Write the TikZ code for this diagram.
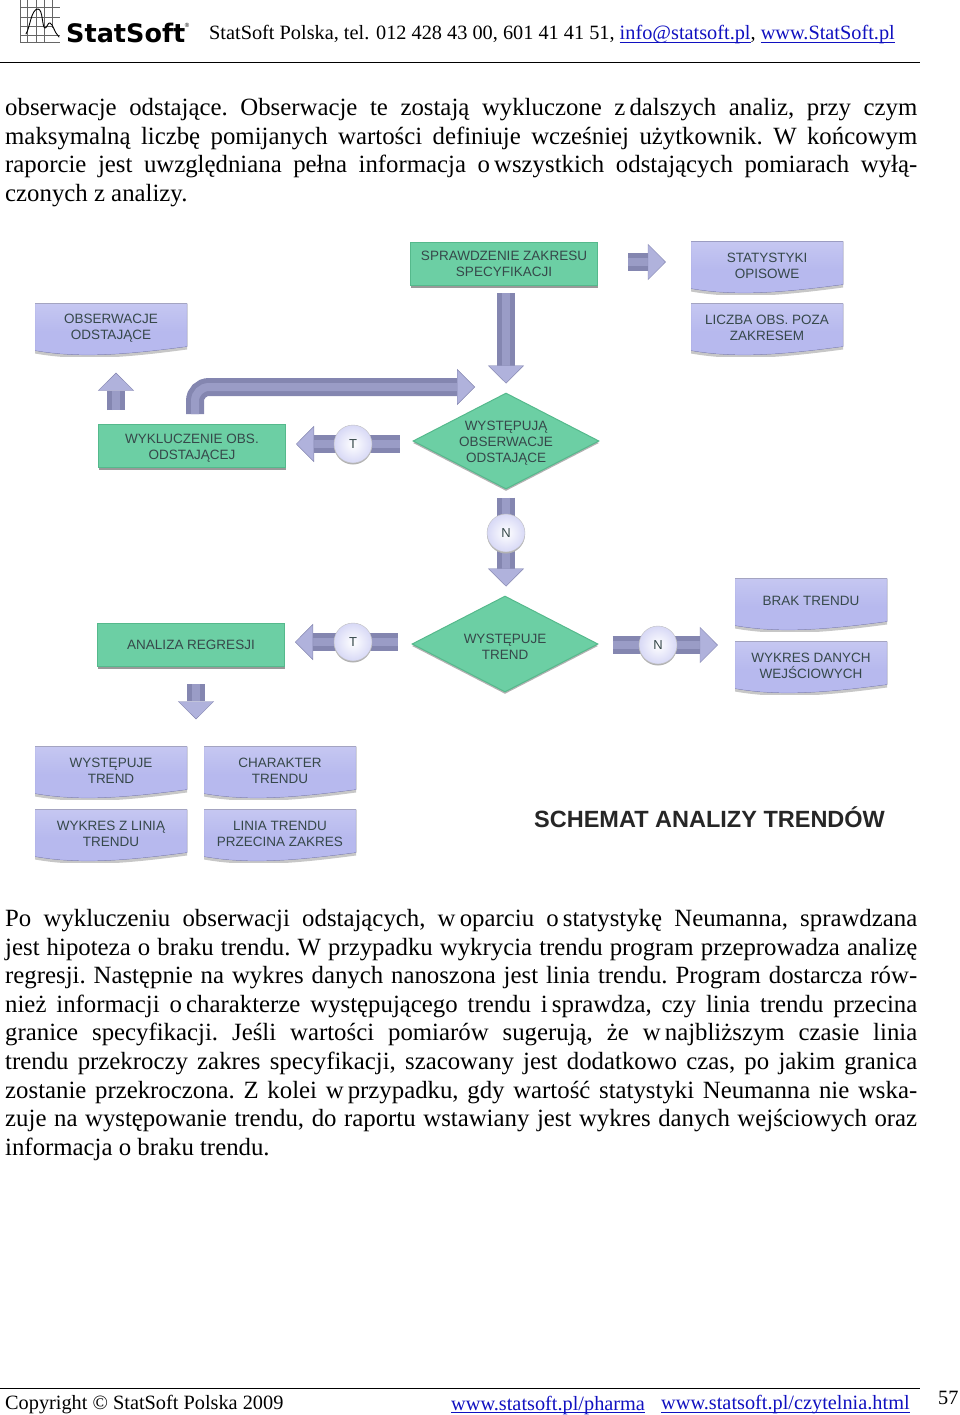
\documentclass[tikz,border=0pt]{standalone}
\usepackage{fontspec}
\usepackage{xcolor}
\setmainfont{Liberation Serif}
\setsansfont{Liberation Sans}
\newfontfamily\logofont{DejaVu Sans}
\usetikzlibrary{arrows.meta,positioning,calc,shapes.geometric,shadows}
\definecolor{greenfill}{HTML}{6CCFA4}
\definecolor{greenedge}{HTML}{55B98C}
\definecolor{docfill}{HTML}{B7B9EE}
\definecolor{docedge}{HTML}{9C9ED6}
\definecolor{shaftdark}{HTML}{8486B0}
\definecolor{shaftlight}{HTML}{9A9CC6}
\definecolor{headfill}{HTML}{B0B2DC}
\definecolor{boxtext}{HTML}{36484A}
\definecolor{linkblue}{HTML}{1010C0}
\newcommand{\weblink}[1]{\sbox0{#1}\textcolor{linkblue}{\rlap{\rule[-3pt]{\wd0}{.9pt}}#1}}
\newcommand{\toppad}{\rule{0pt}{14pt}}
\tikzset{
  greenbox/.style={draw=greenedge,fill=greenfill,line width=1pt,align=center,
    minimum width=187,minimum height=43,inner sep=0pt,text=boxtext,
    font=\fontsize{13.5}{16}\selectfont\sffamily,
    general shadow={shadow yshift=-2pt,fill=black!40}},
  decisionbox/.style={diamond,draw=greenedge,fill=greenfill,line width=1pt,align=center,
    minimum width=186,minimum height=96,inner sep=-6pt,shape aspect=1.94,text=boxtext,
    font=\fontsize{13.5}{16}\selectfont\sffamily,
    general shadow={shadow yshift=-2pt,fill=black!30}},
  docbox/.style={rectangle,minimum width=152,minimum height=57,inner sep=0pt,align=center,
    text=boxtext,font=\fontsize{13.5}{16}\selectfont\sffamily,
    path picture={
      \coordinate (docnw) at ($(path picture bounding box.north west)+(0pt,-4pt)$);
      \coordinate (docne) at ($(path picture bounding box.north east)+(0pt,-4pt)$);
      \coordinate (docsw) at (path picture bounding box.south west);
      \coordinate (docse) at (path picture bounding box.south east);
      \fill[black!22] (docnw) -- (docne) -- ($(docse)+(0pt,7pt)$)
        .. controls +(-60pt,-8pt) and +(45pt,-8pt) .. ($(docsw)+(0pt,3pt)$) -- cycle;
      \fill[top color=docfill!80!white,bottom color=docfill,middle color=docfill,draw=docedge]
        (docnw) -- (docne) -- ($(docse)+(0pt,10pt)$)
        .. controls +(-60pt,-8pt) and +(45pt,-8pt) .. ($(docsw)+(0pt,6pt)$) -- cycle;}},
  blockarrow/.style={line width=5pt,double=shaftlight,double distance=8pt,draw=shaftdark,
    -{Triangle[width=36pt,length=18pt,fill=headfill,color=shaftdark,line width=.4pt]}},
  yesnonode/.style={circle,draw=black!25,inner color=white,outer color=docfill!55!white,
    minimum size=38,inner sep=0pt,text=boxtext,font=\fontsize{13}{15}\selectfont\sffamily,
    general shadow={shadow yshift=-1.5pt,fill=black!30}},
  plaintext/.style={inner sep=0pt,anchor=west,font=\fontsize{20.3}{24}\selectfont},
  bodytext/.style={inner sep=0pt,anchor=north west,text width=912,align=justify,
    font=\fontsize{24.8}{28.6}\selectfont\frenchspacing},
  footertext/.style={inner sep=0pt,anchor=west,font=\fontsize{20.3}{24}\selectfont},
  ruleline/.style={line width=1pt,black}
}
\begin{document}
\begin{tikzpicture}[x=1pt,y=-1pt]
  \useasboundingbox (0,0) rectangle (960,1415);

  \draw[black!60,line width=.6pt] (20,0) -- (20,42.5) -- (60,42.5);
  \draw[black!60,line width=.6pt] (27,0) -- (27,42) (36,0) -- (36,42) (44,0) -- (44,42) (52,0) -- (52,28)
    (20,7.5) -- (60,7.5) (20,17) -- (60,17) (20,26) -- (52,26) (20,35) -- (60,35);
  \draw[black,line width=.9pt,line cap=round] (26,34) .. controls (30,28) and (31,9) .. (38,9)
    .. controls (43,9) and (42,28) .. (45,28) .. controls (47,28) and (48,22) .. (50,23)
    .. controls (53,24) and (54,32) .. (59,37);
  \node[inner sep=0pt,anchor=west,font=\fontsize{25.5}{28}\selectfont\logofont\bfseries] (logotext) at (66,33) {StatSoft};
  \node[inner sep=0pt,font=\fontsize{6}{7}\selectfont\sffamily] (logoreg) at (187,25) {®};
  \node[plaintext] (headertext) at (209,35) {StatSoft Polska, tel. 012 428 43 00, 601 41 41 51, \weblink{info@statsoft.pl}, \weblink{www.StatSoft.pl}};
  \draw[ruleline] (0,62.5) -- (920,62.5);

  \node[bodytext] (paraone) at (5,98) {obserwacje odstające. Obserwacje te zostają wykluczone z\,dalszych analiz, przy czym\linebreak
    maksymalną liczbę pomijanych wartości definiuje wcześniej użytkownik. W końcowym\linebreak
    raporcie jest uwzględniana pełna informacja o\,wszystkich odstających pomiarach wyłą-\linebreak
    czonych z analizy.};

  \node[greenbox] (spraw) at (504,264) {SPRAWDZENIE ZAKRESU\\SPECYFIKACJI};
  \node[docbox] (staty) at (767,266) {STATYSTYKI\\OPISOWE};
  \node[docbox] (liczba) at (767,328) {LICZBA OBS. POZA\\ZAKRESEM};
  \node[docbox] (obser) at (111,328) {OBSERWACJE\\ODSTAJĄCE};
  \node[decisionbox] (odst) at (506,441) {\toppad WYSTĘPUJĄ\\OBSERWACJE\\ODSTAJĄCE};
  \node[greenbox] (wykl) at (192,446) {\toppad WYKLUCZENIE OBS.\\ODSTAJĄCEJ};
  \node[decisionbox] (trend) at (505,644) {\toppad WYSTĘPUJE\\TREND};
  \node[greenbox] (regr) at (191,645) {ANALIZA REGRESJI};
  \node[docbox] (brak) at (811,603) {\raisebox{4pt}{BRAK TRENDU}};
  \node[docbox] (danych) at (811,666) {WYKRES DANYCH\\WEJŚCIOWYCH};
  \node[docbox] (wystr) at (111,771) {WYSTĘPUJE\\TREND};
  \node[docbox] (chara) at (280,771) {CHARAKTER\\TRENDU};
  \node[docbox] (linia) at (111,834) {WYKRES Z LINIĄ\\TRENDU};
  \node[docbox] (przec) at (280,834) {LINIA TRENDU\\PRZECINA ZAKRES};

  \coordinate (loopend) at (475,387);
  \coordinate (tone) at (353,444);
  \coordinate (ttwo) at (353,642);
  \coordinate (none) at (506,533);
  \coordinate (ntwo) at (658,645);

  \draw[blockarrow,shorten <=30pt,shorten >=25pt] (spraw.east |- 0,262) -- (staty.west |- 0,262);
  \draw[blockarrow,shorten <=7pt,shorten >=9pt] (odst.north |- spraw.south) -- (odst.north);
  \draw[blockarrow,shorten <=14pt,shorten >=16pt] ([xshift=5pt]obser.south |- wykl.north) -- ([xshift=5pt]obser.south);
  \draw[blockarrow,rounded corners=14pt,shorten <=10pt] ([xshift=3pt]wykl.north) |- (loopend);
  \draw[blockarrow,shorten <=13pt,shorten >=10pt] (tone -| odst.west) -- (tone -| wykl.east);
  \draw[blockarrow,shorten <=14pt,shorten >=10pt] (ttwo -| trend.west) -- (ttwo -| regr.east);
  \draw[blockarrow,shorten <=8pt,shorten >=9pt] (odst.south) -- (trend.north -| odst.south);
  \draw[blockarrow,shorten <=14pt,shorten >=17pt] (ntwo -| trend.east) -- (ntwo -| brak.west);
  \draw[blockarrow,shorten <=17pt,shorten >=23pt] ([xshift=5pt]regr.south) -- ([xshift=5pt]regr.south |- wystr.north);

  \node[yesnonode] (tonenode) at (tone) {T};
  \node[yesnonode] (ttwonode) at (ttwo) {T};
  \node[yesnonode] (nonenode) at (none) {N};
  \node[yesnonode] (ntwonode) at (ntwo) {N};

  \node[inner sep=0pt,anchor=west,font=\fontsize{23.5}{26}\selectfont\sffamily\bfseries,text=black!85] (schemat) at (534,817) {SCHEMAT ANALIZY TRENDÓW};

  \node[bodytext] (paratwo) at (5,909) {Po wykluczeniu obserwacji odstających, w\,oparciu o\,statystykę Neumanna, sprawdzana\linebreak
    jest hipoteza o braku trendu. W przypadku wykrycia trendu program przeprowadza analizę\linebreak
    regresji. Następnie na wykres danych nanoszona jest linia trendu. Program dostarcza rów-\linebreak
    nież informacji o\,charakterze występującego trendu i\,sprawdza, czy linia trendu przecina\linebreak
    granice specyfikacji. Jeśli wartości pomiarów sugerują, że w\,najbliższym czasie linia\linebreak
    trendu przekroczy zakres specyfikacji, szacowany jest dodatkowo czas, po jakim granica\linebreak
    zostanie przekroczona. Z kolei w\,przypadku, gdy wartość statystyki Neumanna nie wska-\linebreak
    zuje na występowanie trendu, do raportu wstawiany jest wykres danych wejściowych oraz\linebreak
    informacja o braku trendu.};

  \draw[ruleline] (0,1388) -- (920,1388);
  \node[footertext] (copyright) at (5,1405) {Copyright © StatSoft Polska 2009};
  \node[footertext] (linkpharma) at (451,1405) {\weblink{www.statsoft.pl/pharma}};
  \node[footertext] (linkczyt) at (661,1405) {\weblink{www.statsoft.pl/czytelnia.html}};
  \node[footertext] (pagenum) at (938,1398) {57};
\end{tikzpicture}
\end{document}
